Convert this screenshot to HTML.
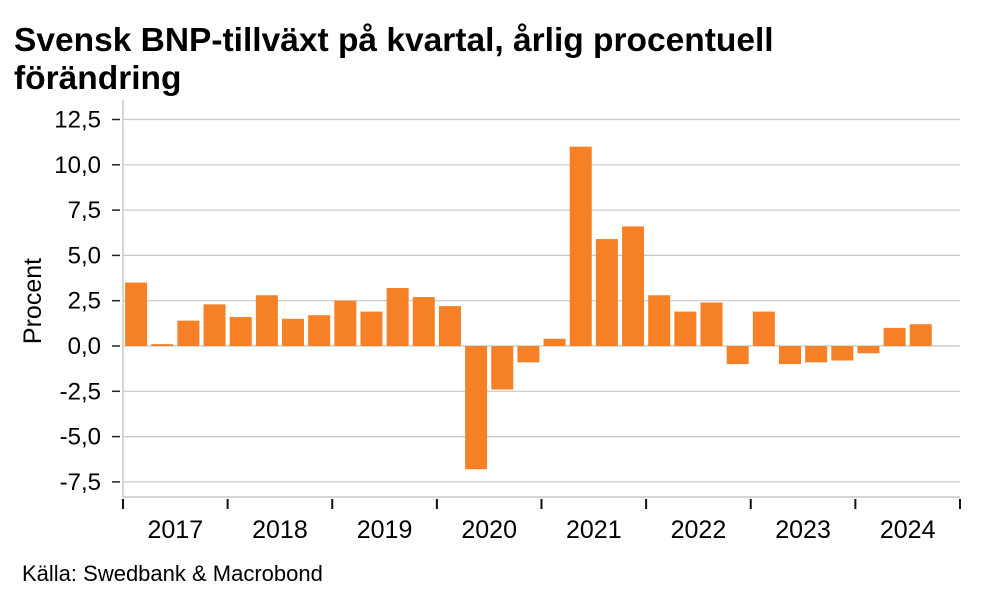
<!DOCTYPE html>
<html><head><meta charset="utf-8"><style>
body{margin:0;background:#fff;width:991px;height:607px;overflow:hidden;font-family:"Liberation Sans",sans-serif}
</style></head><body>
<svg width="991" height="607" style="position:absolute;left:0;top:0">
<text x="14" y="51" font-size="33.5" font-weight="bold" fill="#000">Svensk BNP-tillväxt på kvartal, årlig procentuell</text>
<text x="14" y="89" font-size="33.5" font-weight="bold" fill="#000">förändring</text>
<text transform="translate(41,301) rotate(-90)" text-anchor="middle" font-size="25">Procent</text>
<text x="22" y="581" font-size="22">Källa: Swedbank &amp; Macrobond</text>
<g id="g"></g>
</svg>
<script>
const years=["2017","2018","2019","2020","2021","2022","2023","2024"];
const values=[3.5,0.1,1.4,2.3, 1.6,2.8,1.5,1.7, 2.5,1.9,3.2,2.7, 2.2,-6.8,-2.4,-0.9, 0.4,11.0,5.9,6.6, 2.8,1.9,2.4,-1.0, 1.9,-1.0,-0.9,-0.8, -0.4,1.0,1.2];
const yTicks=[12.5,10,7.5,5,2.5,0,-2.5,-5,-7.5];
const X0=123,X1=960,yearW=(X1-X0)/8,qW=yearW/4;
const y=v=>346-v*18.12;
const NS="http://www.w3.org/2000/svg",g=document.getElementById('g');
function mk(t,a){const e=document.createElementNS(NS,t);for(const k in a)e.setAttribute(k,a[k]);g.appendChild(e);return e;}
yTicks.forEach(t=>{
 const l=mk('line',{x1:X0,x2:X1,y1:y(t),y2:y(t),stroke:'#c8c8c8','stroke-width':1.2});
 
 
 const tk=mk('line',{x1:112,x2:120,y1:y(t),y2:y(t),stroke:'#222','stroke-width':1.5});
 
 
 const tx=mk('text',{x:101,y:y(t)+8,'text-anchor':'end','font-size':24});
 tx.textContent=t.toFixed(1).replace('.',',');
 
 
});
const ya=mk('line',{x1:X0,x2:X0,y1:100,y2:497,stroke:'#c8c8c8','stroke-width':1.5});


const xa=mk('line',{x1:X0,x2:X1,y1:497,y2:497,stroke:'#c8c8c8','stroke-width':1.5});


values.forEach((v,i)=>{
 const cx=X0+qW*(i+0.5);
 const r=mk('rect',{x:cx-11,width:22,y:Math.min(y(v),y(0)),height:Math.abs(y(v)-y(0)),fill:'#f58025'});
 
 
});
for(let i=0;i<=years.length;i++){
 const x=X0+yearW*i;
 const t=mk('line',{x1:x,x2:x,y1:499,y2:509,stroke:'#111','stroke-width':2});
 
 
 if(i<years.length){
  const tx=mk('text',{x:x+yearW/2,y:538,'text-anchor':'middle','font-size':25});
  tx.textContent=years[i];
  
  
 }
}
</script>
</body></html>
